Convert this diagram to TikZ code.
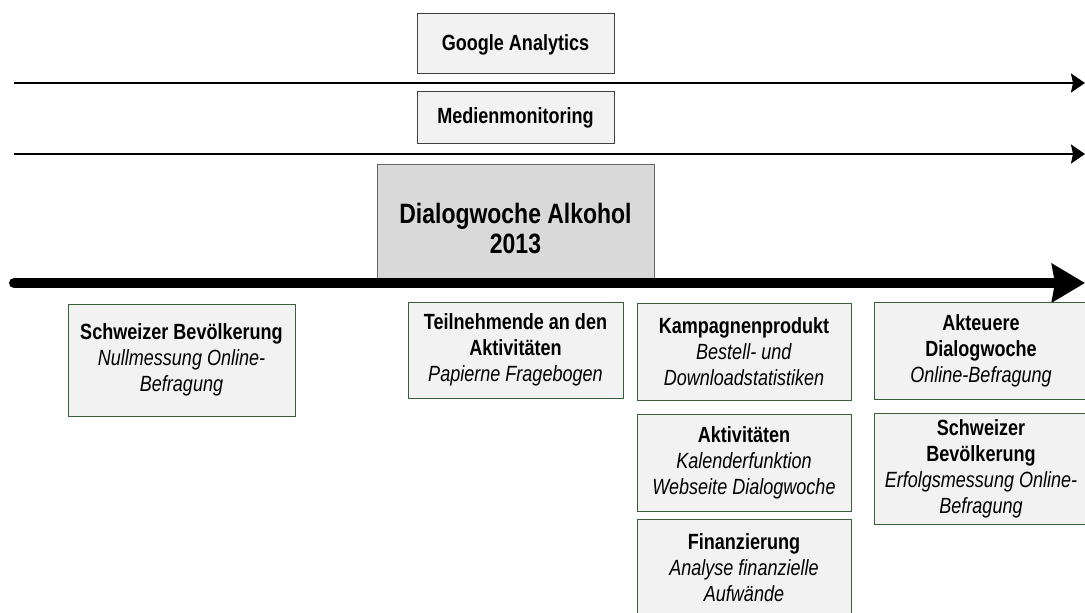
\documentclass[tikz,border=0pt]{standalone}
\usepackage{fontspec}
\setmainfont{Liberation Sans}[FakeStretch=0.82]
\usetikzlibrary{arrows.meta}
\definecolor{boxgreen}{RGB}{56,96,56}
\definecolor{boxfill}{RGB}{242,242,242}
\definecolor{topline}{RGB}{64,64,64}
\definecolor{mainfill}{RGB}{217,217,217}
\begin{document}
\begin{tikzpicture}[x=1pt,y=-1pt,
  txt/.style={font=\fontsize{22}{26}\selectfont, align=center, inner sep=0pt},
  greenbox/.style={txt, draw=boxgreen, fill=boxfill, line width=1pt, minimum width=214pt, minimum height=97pt},
  topbox/.style={draw=topline, fill=boxfill, line width=1pt, minimum width=197pt},
  mainbox/.style={draw=topline!80, fill=mainfill, line width=1pt, minimum width=277pt, minimum height=120pt},
  maintext/.style={font=\fontsize{28}{30}\selectfont\bfseries, align=center, inner sep=0pt},
  thinarrow/.style={line width=2pt, -{Stealth[length=14pt,width=19pt,inset=2pt]}},
  thickarrow/.style={line width=10pt, line cap=round, -{Stealth[length=33pt,width=38pt,inset=3pt]}}
]
\useasboundingbox (0,0) rectangle (1085,613);
\clip (0,0) rectangle (1085,613);

% top boxes and thin arrows
\node[topbox, minimum height=60pt] (ga) at (515.5,43) {};
\node[txt, font=\fontsize{22}{26}\selectfont\bfseries] (gat) at (515.5,45) {Google Analytics};
\coordinate (a1s) at (14,83);
\coordinate (a1e) at (1085,83);
\draw[thinarrow] (a1s) -- (a1e);
\node[topbox, minimum height=52pt] (mm) at (515.5,117) {};
\node[txt, font=\fontsize{22}{26}\selectfont\bfseries] (mmt) at (515.5,118) {Medienmonitoring};
\coordinate (a2s) at (14,154);
\coordinate (a2e) at (1085,154);
\draw[thinarrow] (a2s) -- (a2e);

% main box and thick arrow
\node[mainbox] (dw) at (515.5,224) {};
\node[maintext] (dwt) at (515.5,229) {Dialogwoche Alkohol\\2013};
\coordinate (a3s) at (14,283);
\coordinate (a3e) at (1085,283);
\draw[thickarrow] (a3s) -- (a3e);

% green boxes
\node[greenbox, minimum width=227pt, minimum height=112pt] (sb1) at (181.5,360)
  {\textbf{Schweizer Bevölkerung}\\\textit{Nullmessung Online-}\\\textit{Befragung}};
\node[greenbox, minimum width=215pt, minimum height=96pt] (tn) at (515.5,350)
  {\textbf{Teilnehmende an den}\\\textbf{Aktivitäten}\\\textit{Papierne Fragebogen}};
\node[greenbox] (kp) at (744,351.5)
  {\textbf{Kampagnenprodukt}\\\textit{Bestell- und}\\\textit{Downloadstatistiken}};
\node[greenbox] (ak) at (744,462.5)
  {\textbf{Aktivitäten}\\\textit{Kalenderfunktion}\\\textit{Webseite Dialogwoche}};
\node[greenbox] (fi) at (744,567.5)
  {\textbf{Finanzierung}\\\textit{Analyse finanzielle}\\\textit{Aufwände}};
\node[greenbox] (ad) at (981,350.5)
  {\textbf{Akteuere}\\\textbf{Dialogwoche}\\\textit{Online-Befragung}};
\node[greenbox, minimum height=111pt] (sb2) at (981,468.5)
  {\textbf{Schweizer}\\\textbf{Bevölkerung}\\\textit{Erfolgsmessung Online-}\\\textit{Befragung}};
\end{tikzpicture}
\end{document}
